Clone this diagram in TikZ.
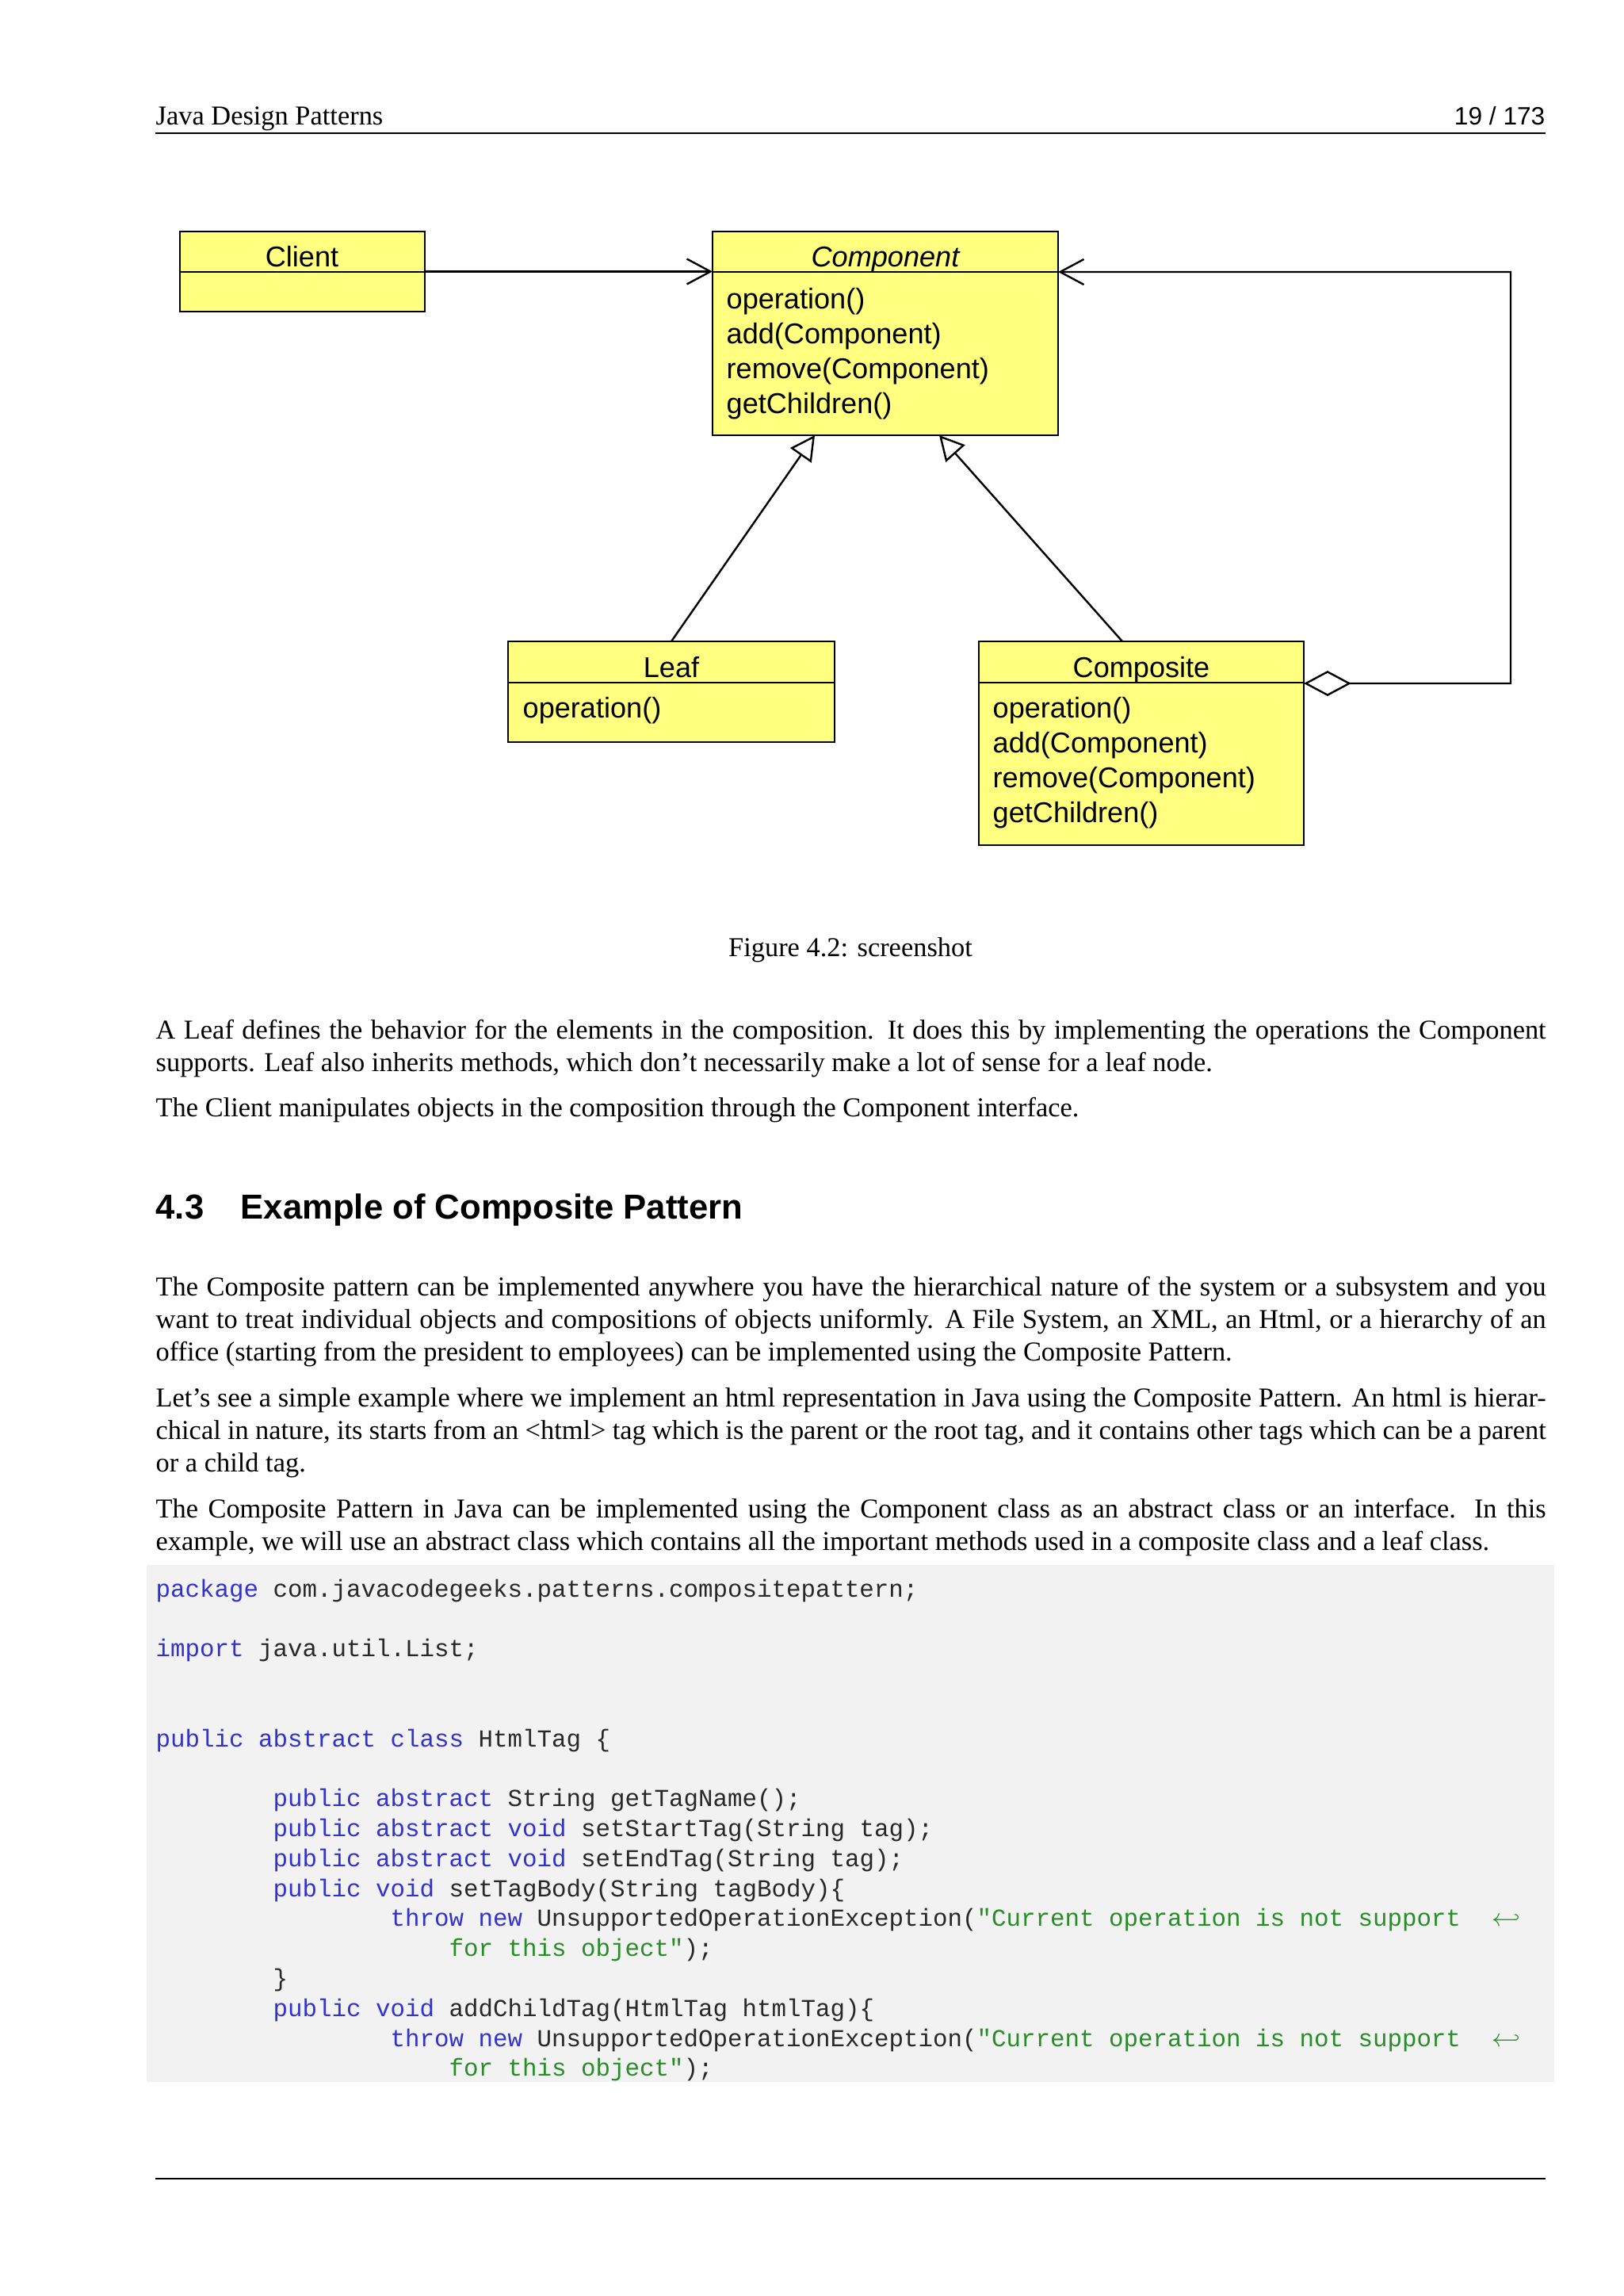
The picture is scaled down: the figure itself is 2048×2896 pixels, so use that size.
\documentclass[tikz,border=0pt]{standalone}
\usepackage{fontspec}
\setmainfont{Liberation Serif}
\setmonofont{Liberation Mono}
\newfontfamily\hsans{Liberation Sans}
\newfontfamily\umlfont{Liberation Sans}
\usetikzlibrary{arrows.meta,calc,fit}
\definecolor{umlyellow}{RGB}{255,255,128}
\definecolor{kwblue}{RGB}{50,50,205}
\definecolor{strgreen}{RGB}{40,140,40}
\definecolor{codebg}{RGB}{242,242,242}
\definecolor{codetext}{RGB}{40,40,40}
\newcommand\kw[1]{\textcolor{kwblue}{#1}}
\newcommand\st[1]{\textcolor{strgreen}{#1}}
\newcommand\umlf{\umlfont\fontsize{10.5pt}{12pt}\selectfont}
\newcommand\bodyf{\fontsize{10pt}{12pt}\selectfont}
\newcommand\codef{\ttfamily\fontsize{8.96pt}{11pt}\selectfont}
\newcommand\jline[1]{\makebox[509.8pt][s]{#1}}
\begin{document}
\begin{tikzpicture}[x=0.290662pt,y=-0.290662pt,
  box/.style={draw=black, line width=0.7pt, fill=umlyellow, inner sep=0pt, outer sep=0pt},
  uml/.style={font=\umlf, inner sep=0pt},
  meth/.style={uml, anchor=base west},
  ttl/.style={uml, anchor=base},
  conn/.style={line width=0.7pt},
  assoc/.style={conn, -{Straight Barb[length=8.7pt, width=9.3pt]}},
  inherit/.style={conn, -{Triangle[open, length=9pt, width=9.4pt]}},
  aggr/.style={conn, {Diamond[open, length=17.4pt, width=9.3pt]}-{Straight Barb[length=8.7pt, width=9.3pt]}},
  txt/.style={anchor=base west, inner sep=0pt, font=\bodyf},
  code/.style={anchor=base west, inner sep=0pt, font=\codef, text=codetext},
  rulel/.style={line width=0.5pt}]
\fill[white] (0,0) rectangle (2048,2896);
\useasboundingbox (0,0) rectangle (2048,2896);

% header
\node[txt] (hdr) at (196,157) {Java Design Patterns};
\node[anchor=base east, inner sep=0pt, font=\hsans\fontsize{9.2pt}{11pt}\selectfont] (pg) at (1950,157) {19 / 173};
\coordinate (hl) at (196,168);
\coordinate (hr) at (1950,168);
\draw[rulel] (hl) -- (hr);

% UML boxes
\node[box, fit={(227,292) (536,393)}] (client) {};
\node[box, fit={(899,292) (1335,549)}] (component) {};
\node[box, fit={(641,809) (1053,936)}] (leaf) {};
\node[box, fit={(1235,809) (1645,1066)}] (composite) {};
\draw[line width=0.7pt] ($(client.north west)+(0,51)$) -- ($(client.north east)+(0,51)$);
\draw[line width=0.7pt] ($(component.north west)+(0,51)$) -- ($(component.north east)+(0,51)$);
\draw[line width=0.7pt] ($(leaf.north west)+(0,52)$) -- ($(leaf.north east)+(0,52)$);
\draw[line width=0.7pt] ($(composite.north west)+(0,52)$) -- ($(composite.north east)+(0,52)$);

\node[ttl] (tclient) at (381,336) {Client};
\node[ttl] (tcomp) at (1117,336) {\itshape Component};
\node[meth] (m1) at (916,389) {operation()};
\node[meth] (m2) at (916,433) {add(Component)};
\node[meth] (m3) at (916,477) {remove(Component)};
\node[meth] (m4) at (916,521) {getChildren()};
\node[ttl] (tleaf) at (847,854) {Leaf};
\node[meth] (l1) at (659,905) {operation()};
\node[ttl] (tcmp) at (1440,854) {Composite};
\node[meth] (c1) at (1252,905) {operation()};
\node[meth] (c2) at (1252,949) {add(Component)};
\node[meth] (c3) at (1252,993) {remove(Component)};
\node[meth] (c4) at (1252,1037) {getChildren()};

% connectors
\draw[assoc] (client.east) -- (client.east -| component.west);
\draw[inherit] (leaf.north) -- ($(component.south west)+(129,0)$);
\draw[inherit] ($(composite.north west)+(181,0)$) -- ($(component.south west)+(286,0)$);
\coordinate (ret) at (1906,343);
\draw[aggr] ($(composite.north east)+(0,53)$) -| (ret) -- ($(component.north east)+(0,51)$);

% caption
\node[anchor=base, inner sep=0pt, font=\bodyf] (cap) at (1073,1206) {Figure 4.2: screenshot};

% paragraphs
\node[txt] (p1a) at (196,1310) {\jline{A Leaf defines the behavior for the elements in the composition.  It does this by implementing the operations the Component}};
\node[txt] (p1b) at (196,1351) {supports. Leaf also inherits methods, which don’t necessarily make a lot of sense for a leaf node.};
\node[txt] (p2a) at (196,1408) {The Client manipulates objects in the composition through the Component interface.};

\node[anchor=base west, inner sep=0pt, font=\hsans\bfseries\fontsize{12.7pt}{15pt}\selectfont] (h1) at (196,1537) {4.3};
\node[anchor=base west, inner sep=0pt, font=\hsans\bfseries\fontsize{12.7pt}{15pt}\selectfont] (h2) at (303,1537) {Example of Composite Pattern};

\node[txt] (p3a) at (196,1634) {\jline{The Composite pattern can be implemented anywhere you have the hierarchical nature of the system or a subsystem and you}};
\node[txt] (p3b) at (196,1675) {\jline{want to treat individual objects and compositions of objects uniformly.  A File System, an XML, an Html, or a hierarchy of an}};
\node[txt] (p3c) at (196,1716) {office (starting from the president to employees) can be implemented using the Composite Pattern.};

\node[txt] (p4a) at (196,1774) {\jline{Let’s see a simple example where we implement an html representation in Java using the Composite Pattern.  An html is hierar-}};
\node[txt] (p4b) at (196,1815) {\jline{chical in nature, its starts from an <html> tag which is the parent or the root tag, and it contains other tags which can be a parent}};
\node[txt] (p4c) at (196,1856) {or a child tag.};

\node[txt] (p5a) at (196,1914) {\jline{The Composite Pattern in Java can be implemented using the Component class as an abstract class or an interface.  In this}};
\node[txt] (p5b) at (196,1955) {example, we will use an abstract class which contains all the important methods used in a composite class and a leaf class.};

% code block
\fill[codebg] (185,1974) rectangle (1961,2626);
\node[code] (k0) at (196,2014) {\kw{package} com.javacodegeeks.patterns.compositepattern;};
\node[code] (k2) at (196,2089.6) {\kw{import} java.util.List;};
\node[code] (k5) at (196,2203) {\kw{public} \kw{abstract} \kw{class} HtmlTag \{};
\node[code] (k7) at (344,2278.6) {\kw{public} \kw{abstract} String getTagName();};
\node[code] (k8) at (344,2316.4) {\kw{public} \kw{abstract} \kw{void} setStartTag(String tag);};
\node[code] (k9) at (344,2354.2) {\kw{public} \kw{abstract} \kw{void} setEndTag(String tag);};
\node[code] (k10) at (344,2392) {\kw{public} \kw{void} setTagBody(String tagBody)\{};
\node[code] (k11) at (492,2429.8) {\kw{throw} \kw{new} UnsupportedOperationException(\st{"Current operation is not support}};
\node[code, text=strgreen] (a11) at (1882,2429.8) {$\hookleftarrow$};
\node[code] (k12) at (566,2467.6) {\st{for this object"});};
\node[code] (k13) at (344,2505.4) {\}};
\node[code] (k14) at (344,2543.2) {\kw{public} \kw{void} addChildTag(HtmlTag htmlTag)\{};
\node[code] (k15) at (492,2581) {\kw{throw} \kw{new} UnsupportedOperationException(\st{"Current operation is not support}};
\node[code, text=strgreen] (a15) at (1882,2581) {$\hookleftarrow$};
\node[code] (k16) at (566,2618.8) {\st{for this object"});};

% footer rule
\coordinate (fl) at (196,2748);
\coordinate (fr) at (1950,2748);
\draw[rulel] (fl) -- (fr);
\end{tikzpicture}
\end{document}
